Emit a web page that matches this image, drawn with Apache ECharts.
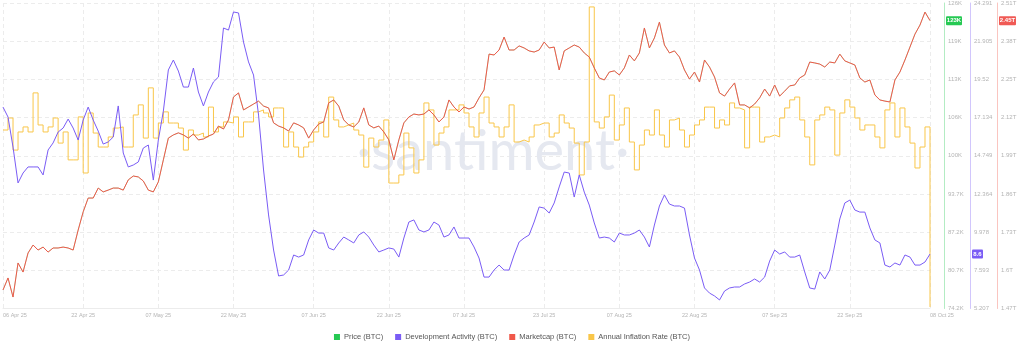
<!DOCTYPE html>
<html>
<head>
<meta charset="utf-8">
<script src="https://cdn.jsdelivr.net/npm/echarts@6/dist/echarts.min.js"></script>
<style>
  html, body { margin: 0; padding: 0; background: #ffffff; }
  #chart { width: 1024px; height: 346px; }
</style>
</head>
<body>
<div id="chart"></div>
<script>
// Daily series for BTC, starting 06 Apr 2025
const startDate = [2025, 3, 6];

// Price (BTC), thousands of USD
const price = [
  77.35, 79.39, 76.16, 81.95, 80.42, 83.65, 85.01, 84.16, 84.67, 83.82,
  84.50, 84.50, 84.67, 84.50, 84.16, 87.56, 90.63, 93.01, 93.01, 94.71,
  94.03, 94.37, 94.71, 94.71, 94.37, 96.07, 96.75, 96.58, 95.90, 94.37,
  94.03, 95.73, 99.48, 103.22, 103.73, 104.07, 103.73, 103.22, 103.90, 102.88,
  103.05, 103.56, 103.90, 105.26, 104.75, 106.29, 110.20, 110.88, 107.99, 108.50,
  109.01, 109.52, 108.67, 108.33, 105.77, 105.26, 104.92, 104.41, 105.77, 105.43,
  104.92, 103.22, 104.58, 105.60, 105.95, 109.18, 109.69, 108.67, 106.29, 105.43,
  105.09, 105.95, 108.33, 105.43, 104.92, 105.26, 104.24, 102.88, 99.48, 102.88,
  105.77, 106.80, 107.31, 107.14, 107.31, 107.99, 107.14, 105.95, 106.80, 109.69,
  108.50, 107.65, 108.50, 108.16, 108.50, 110.03, 111.39, 117.52, 117.35, 118.20,
  120.41, 118.20, 118.20, 118.88, 118.54, 118.03, 117.86, 118.20, 119.56, 118.54,
  118.71, 114.80, 118.03, 118.54, 119.05, 118.71, 117.69, 117.01, 115.14, 113.43,
  113.09, 114.46, 114.63, 113.94, 115.14, 117.35, 116.33, 117.69, 121.94, 118.54,
  120.24, 122.97, 119.05, 117.69, 118.03, 117.01, 114.80, 113.26, 114.46, 112.75,
  116.50, 115.31, 113.60, 110.88, 110.37, 111.56, 112.58, 108.84, 108.84, 108.33,
  109.01, 110.03, 111.56, 110.37, 112.24, 110.37, 111.22, 112.07, 112.24, 113.43,
  113.94, 116.16, 115.99, 115.82, 115.31, 116.16, 115.99, 117.52, 116.33, 115.99,
  115.65, 113.43, 112.75, 113.09, 110.54, 109.69, 109.52, 109.35, 113.09, 114.46,
  116.50, 118.71, 120.92, 122.45, 124.67, 123.20
];

// Development Activity (BTC)
const devActivity = [
  17.79, 17.17, 15.29, 13.05, 13.67, 14.05, 14.05, 14.05, 13.55, 15.11,
  15.55, 16.23, 16.48, 17.04, 16.48, 15.73, 16.98, 17.79, 16.98, 16.29,
  15.48, 15.61, 15.92, 17.86, 14.92, 14.05, 14.17, 14.36, 15.23, 15.42,
  13.23, 15.73, 17.54, 20.11, 20.73, 20.04, 19.04, 19.04, 20.23, 18.73,
  17.86, 18.73, 19.36, 19.67, 22.73, 22.60, 23.73, 23.67, 21.85, 20.61,
  19.79, 17.29, 13.86, 11.05, 8.86, 7.24, 7.30, 7.61, 8.55, 8.42,
  8.55, 9.49, 10.11, 9.92, 9.92, 8.99, 8.86, 9.30, 9.67, 9.49,
  9.30, 9.80, 9.99, 9.67, 9.17, 8.74, 8.86, 8.99, 8.92, 8.42,
  9.61, 10.61, 10.74, 10.11, 9.99, 10.11, 10.61, 10.42, 9.67, 9.80,
  10.30, 9.61, 9.61, 9.61, 9.05, 8.36, 7.17, 7.17, 7.61, 7.92,
  7.61, 7.61, 8.55, 9.36, 9.61, 9.80, 10.61, 11.55, 11.48, 11.17,
  11.80, 12.80, 13.73, 13.67, 12.17, 13.55, 12.48, 11.67, 10.55, 9.61,
  9.67, 9.61, 9.36, 9.92, 9.80, 9.80, 9.92, 10.11, 9.67, 9.05,
  10.42, 11.61, 12.30, 11.73, 11.61, 11.61, 11.48, 9.80, 8.36, 7.61,
  6.49, 6.17, 5.99, 5.74, 6.30, 6.49, 6.55, 6.55, 6.74, 6.86,
  7.05, 6.86, 7.17, 8.17, 8.86, 8.61, 8.74, 8.42, 8.42, 8.55,
  7.49, 6.49, 6.42, 7.49, 7.05, 7.61, 9.17, 10.80, 11.80, 11.98,
  11.36, 11.23, 11.23, 10.24, 9.49, 9.30, 7.92, 7.80, 8.05, 7.92,
  8.55, 8.42, 7.92, 7.92, 8.11, 8.61
];

// Marketcap (BTC), trillions of USD
const marketcap = [
  1.533, 1.574, 1.509, 1.625, 1.594, 1.659, 1.686, 1.669, 1.679, 1.662,
  1.676, 1.676, 1.679, 1.676, 1.669, 1.737, 1.799, 1.846, 1.846, 1.880,
  1.867, 1.873, 1.880, 1.880, 1.873, 1.908, 1.921, 1.918, 1.904, 1.873,
  1.867, 1.901, 1.976, 2.050, 2.061, 2.068, 2.061, 2.050, 2.064, 2.044,
  2.047, 2.057, 2.064, 2.091, 2.081, 2.112, 2.190, 2.204, 2.146, 2.156,
  2.166, 2.176, 2.159, 2.153, 2.102, 2.091, 2.085, 2.074, 2.102, 2.095,
  2.085, 2.050, 2.078, 2.098, 2.105, 2.170, 2.180, 2.159, 2.112, 2.095,
  2.088, 2.105, 2.153, 2.095, 2.085, 2.091, 2.071, 2.044, 1.976, 2.044,
  2.102, 2.122, 2.132, 2.129, 2.132, 2.146, 2.129, 2.105, 2.122, 2.180,
  2.156, 2.139, 2.156, 2.149, 2.156, 2.187, 2.214, 2.336, 2.333, 2.350,
  2.394, 2.350, 2.350, 2.364, 2.357, 2.347, 2.343, 2.350, 2.377, 2.357,
  2.360, 2.282, 2.347, 2.357, 2.367, 2.360, 2.340, 2.326, 2.289, 2.255,
  2.248, 2.275, 2.279, 2.265, 2.289, 2.333, 2.313, 2.340, 2.425, 2.357,
  2.391, 2.445, 2.367, 2.340, 2.347, 2.326, 2.282, 2.251, 2.275, 2.241,
  2.316, 2.292, 2.258, 2.204, 2.193, 2.217, 2.238, 2.163, 2.163, 2.153,
  2.166, 2.187, 2.217, 2.193, 2.231, 2.193, 2.210, 2.228, 2.231, 2.255,
  2.265, 2.309, 2.306, 2.302, 2.292, 2.309, 2.306, 2.336, 2.313, 2.306,
  2.299, 2.255, 2.241, 2.248, 2.197, 2.180, 2.176, 2.173, 2.248, 2.275,
  2.316, 2.360, 2.404, 2.435, 2.479, 2.450
];

// Annual Inflation Rate (BTC), percent
const inflationRate = [
  0.818, 0.873, 0.726, 0.809, 0.832, 0.809, 0.988, 0.841, 0.809, 0.832,
  0.873, 0.758, 0.809, 0.681, 0.681, 0.878, 0.621, 0.896, 0.804, 0.740,
  0.740, 0.786, 0.827, 0.832, 0.740, 0.740, 0.887, 0.933, 0.781, 1.011,
  0.781, 0.850, 0.901, 0.850, 0.850, 0.827, 0.726, 0.818, 0.795, 0.804,
  0.786, 0.923, 0.809, 0.832, 0.855, 0.850, 0.878, 0.786, 0.855, 0.855,
  0.901, 0.910, 0.896, 0.878, 0.919, 0.919, 0.740, 0.809, 0.740, 0.694,
  0.740, 0.763, 0.809, 0.855, 0.786, 0.969, 0.864, 0.832, 0.841, 0.850,
  0.818, 0.795, 0.648, 0.781, 0.740, 0.772, 0.864, 0.575, 0.575, 0.612,
  0.804, 0.736, 0.621, 0.681, 0.942, 0.910, 0.749, 0.804, 0.832, 0.910,
  0.910, 0.933, 0.896, 0.832, 0.786, 0.896, 0.969, 0.850, 0.832, 0.786,
  0.832, 0.933, 0.763, 0.772, 0.763, 0.786, 0.841, 0.850, 0.850, 0.786,
  0.804, 0.887, 0.850, 0.827, 0.758, 0.612, 0.763, 1.382, 0.855, 0.827,
  0.878, 0.978, 0.772, 0.841, 0.919, 0.763, 0.635, 0.749, 0.818, 0.795,
  0.910, 0.795, 0.740, 0.864, 0.873, 0.818, 0.740, 0.795, 0.841, 0.864,
  0.923, 0.923, 0.827, 0.864, 0.841, 0.942, 0.919, 0.910, 0.736, 0.923,
  0.923, 0.763, 0.786, 0.795, 0.786, 0.873, 0.919, 0.956, 0.969, 0.864,
  0.786, 0.658, 0.864, 0.887, 0.923, 0.910, 0.703, 0.896, 0.956, 0.923,
  0.873, 0.818, 0.841, 0.841, 0.786, 0.736, 0.910, 0.942, 0.786, 0.919,
  0.832, 0.758, 0.644, 0.740, 0.832, 0.007
];

// Dates that carry an x-axis label and a vertical grid line
const labelDates = [
  '2025-04-06', '2025-04-22', '2025-05-07', '2025-05-22', '2025-06-07', '2025-06-22',
  '2025-07-07', '2025-07-23', '2025-08-07', '2025-08-22', '2025-09-07', '2025-09-22', '2025-10-08'
];

// Right-hand axis tick labels, bottom to top
const priceTicks = ['74.2K', '80.7K', '87.2K', '93.7K', '100K', '106K', '113K', '119K', '126K'];
const devTicks = ['5.207', '7.593', '9.978', '12.364', '14.749', '17.134', '19.52', '21.905', '24.291'];
const capTicks = ['1.47T', '1.6T', '1.73T', '1.86T', '1.99T', '2.12T', '2.25T', '2.38T', '2.51T'];

const seriesNames = ['Price (BTC)', 'Development Activity (BTC)', 'Marketcap (BTC)', 'Annual Inflation Rate (BTC)'];
const colors = {
  price: '#26c953',
  dev: '#7a5cf5',
  cap: '#f0584a',
  infl: '#f9c649'
};

// Axis ranges
const priceAxis = { min: 74.2, max: 126.2, interval: 6.5 };
const devAxis = { min: 5.207, max: 24.291, interval: 2.3855 };
const capAxis = { min: 1.47, max: 2.51, interval: 0.13 };

const MONTHS = ['Jan', 'Feb', 'Mar', 'Apr', 'May', 'Jun', 'Jul', 'Aug', 'Sep', 'Oct', 'Nov', 'Dec'];
function fmtDate(s) {
  return s.slice(8, 10) + ' ' + MONTHS[+s.slice(5, 7) - 1] + ' ' + s.slice(2, 4);
}

const dates = [];
{
  const t0 = Date.UTC(startDate[0], startDate[1], startDate[2]);
  for (let i = 0; i < price.length; i++) {
    dates.push(new Date(t0 + i * 86400000).toISOString().slice(0, 10));
  }
}

const FONT = '"Liberation Sans", Arial, sans-serif';
const tickLabel = { fontSize: 6, color: '#b4b4b4', margin: 4, fontFamily: FONT };

function tickFormatter(ax, labels) {
  return function (v) {
    const k = Math.round((v - ax.min) / ax.interval);
    return labels[k] !== undefined ? labels[k] : '';
  };
}

function valueAxis(ax, offset, lineColor, labels, split) {
  return {
    type: 'value',
    position: 'right',
    offset: offset,
    min: ax.min,
    max: ax.max,
    interval: ax.interval,
    axisLine: { show: true, lineStyle: { color: lineColor, width: 1 } },
    axisTick: { show: false },
    axisLabel: Object.assign({ formatter: tickFormatter(ax, labels) }, tickLabel),
    splitLine: { show: split, lineStyle: { type: [4, 3], color: '#ececec', width: 1 } }
  };
}

function lineSeries(name, data, axisIndex, color, extra) {
  return Object.assign({
    name: name,
    type: 'line',
    yAxisIndex: axisIndex,
    data: data,
    showSymbol: false,
    symbol: 'none',
    lineStyle: { color: color, width: 1 },
    itemStyle: { color: color },
    emphasis: { disabled: true },
    animation: false
  }, extra || {});
}

const chart = echarts.init(document.getElementById('chart'), null, { renderer: 'canvas' });

chart.setOption({
  animation: false,
  backgroundColor: '#ffffff',
  grid: { left: 0, right: 94, top: 3, bottom: 37.5, containLabel: false },
  legend: {
    data: seriesNames,
    top: 328,
    left: 'center',
    icon: 'rect',
    itemWidth: 6,
    itemHeight: 6,
    itemGap: 12,
    textStyle: { fontSize: 7.5, color: '#555555', fontFamily: FONT, padding: [0, 0, 0, -1] }
  },
  xAxis: {
    type: 'category',
    data: dates,
    boundaryGap: false,
    axisLine: { show: true, lineStyle: { color: '#ececec' } },
    axisTick: { show: false },
    axisLabel: {
      interval: function (i, v) { return labelDates.indexOf(v) !== -1; },
      formatter: fmtDate,
      fontSize: 5.5,
      color: '#b4b4b4',
      margin: 4,
      fontFamily: FONT,
      alignMinLabel: 'left',
      alignMaxLabel: 'left'
    },
    splitLine: {
      show: true,
      interval: function (i, v) { return labelDates.indexOf(v) !== -1; },
      lineStyle: { type: [4, 3], color: '#ececec', width: 1 }
    }
  },
  yAxis: [
    valueAxis(priceAxis, 14, 'rgba(38,201,83,0.35)', priceTicks, true),
    valueAxis(devAxis, 40, 'rgba(122,92,245,0.35)', devTicks, false),
    valueAxis(capAxis, 67, 'rgba(240,88,74,0.35)', capTicks, false),
    { type: 'value', min: 0, max: 1.4, show: false, splitLine: { show: false } }
  ],
  series: [
    lineSeries(seriesNames[3], inflationRate, 3, colors.infl, { step: 'end', z: 2 }),
    // price sits underneath the marketcap line, only its fringes show
    lineSeries(seriesNames[0], price, 0, colors.price, { z: 3, lineStyle: { color: colors.price, width: 1, opacity: 0.35 } }),
    lineSeries(seriesNames[1], devActivity, 1, colors.dev, { z: 4 }),
    lineSeries(seriesNames[2], marketcap, 2, colors.cap, { z: 5 })
  ]
});

// Last-value badges on each visible axis, plus the centre watermark
const last = price.length - 1;
function badge(axisIndex, value, text, x, w, color) {
  const y = chart.convertToPixel({ yAxisIndex: axisIndex }, value);
  return {
    type: 'group',
    x: x,
    y: y - 4.5,
    z: 100,
    children: [
      { type: 'rect', shape: { x: 0, y: 0, width: w, height: 9, r: 1 }, style: { fill: color } },
      {
        type: 'text',
        x: w / 2,
        y: 4.5,
        style: {
          text: text, fill: '#ffffff', font: 'bold 6px ' + FONT,
          textAlign: 'center', textVerticalAlign: 'middle'
        }
      }
    ]
  };
}

const priceLabel = price[last] >= 100 ? Math.floor(price[last]) + 'K' : price[last].toFixed(1) + 'K';
chart.setOption({
  graphic: [
    {
      type: 'text',
      x: 493,
      y: 152,
      z: 0,
      silent: true,
      style: {
        text: '\u00b7santiment\u00b7',
        fill: '#e5e8f0',
        font: '56px Lato, "Open Sans", sans-serif',
        textAlign: 'center',
        textVerticalAlign: 'middle'
      }
    },
    badge(0, price[last], priceLabel, 946, 16, colors.price),
    badge(1, devActivity[last], devActivity[last].toFixed(1), 972, 11, colors.dev),
    badge(2, marketcap[last], marketcap[last].toFixed(2) + 'T', 999, 17, '#f05a55')
  ]
});
</script>
</body>
</html>
